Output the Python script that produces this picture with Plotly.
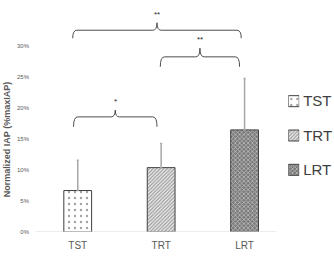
import plotly.graph_objects as go

# ---- data ----
categories = ["TST", "TRT", "LRT"]
means = [6.7, 10.4, 16.5]          # Normalized IAP (% maxIAP)
sd_plus = [4.9, 3.9, 8.3]          # upper error
tick_vals = [0, 5, 10, 15, 20, 25, 30]
tick_text = ["0%", "5%", "10%", "15%", "20%", "25%", "30%"]
comparisons = [(0, 1, "*"), (1, 2, "**"), (0, 2, "**")]

# ---- style ----
pat_shapes = [".", "/", "x"]
pat_bg = ["white", "#f2f2f2", "#7a7a7a"]
pat_fg = ["#808080", "#6a6a6a", "#3a3a3a"]
pat_size = [6, 2.5, 3]
pat_sol = [0.12, 0.5, 0.45]
brace_levels = [18.6, 28.3, 32.6]   # horizontal level of each brace
brace_drop = [1.6, 1.6, 1.3]
brace_rise = [1.1, 1.4, 1.2]
brace_span = [(-0.05, -0.05), (-0.01, -0.06), (-0.06, -0.04)]

W, H = 334, 257
L, R, T, B = 36, 2, 3, 25
pw = W - L - R
main_frac = 252 / pw

fig = go.Figure()
fig.add_trace(go.Bar(
    x=list(range(len(categories))), y=means, width=0.333,
    marker=dict(
        color=pat_bg,
        line=dict(color="#404040", width=1),
        pattern=dict(shape=pat_shapes, bgcolor=pat_bg, fgcolor=pat_fg,
                     size=pat_size, solidity=pat_sol, fillmode="overlay"),
    ),
    error_y=dict(type="data", symmetric=False, array=sd_plus,
                 arrayminus=[0] * len(means), color="#a6a6a6",
                 thickness=1.5, width=1),
    showlegend=False, xaxis="x", yaxis="y",
))

# legend swatches drawn as horizontal bars on a small side axis
fig.add_trace(go.Bar(
    y=categories, x=[1] * len(categories), orientation="h", width=0.32,
    marker=dict(
        color=pat_bg,
        line=dict(color="#404040", width=1),
        pattern=dict(shape=pat_shapes, bgcolor=pat_bg, fgcolor=pat_fg,
                     size=pat_size, solidity=pat_sol, fillmode="overlay"),
    ),
    showlegend=False, xaxis="x2", yaxis="y2", hoverinfo="skip",
))

shapes = []
annotations = []
for k, (i, j, lab) in enumerate(comparisons):
    x0 = i + brace_span[k][0]
    x1 = j + brace_span[k][1]
    xc = (x0 + x1) / 2
    yh = brace_levels[k]
    yt = yh - brace_drop[k]
    yp = yh + brace_rise[k]
    d = 0.05
    path = (f"M{x0},{yt} Q{x0},{yh} {x0 + d},{yh} L{xc - d},{yh} "
            f"Q{xc},{yh} {xc},{yp} Q{xc},{yh} {xc + d},{yh} "
            f"L{x1 - d},{yh} Q{x1},{yh} {x1},{yt}")
    shapes.append(dict(type="path", path=path, xref="x", yref="y",
                       line=dict(color="#4d4d4d", width=1)))
    annotations.append(dict(x=xc, y=yp + 0.3, xref="x", yref="y",
                            text=lab, showarrow=False, yanchor="bottom",
                            font=dict(size=8, color="#262626")))

# baseline axis line
shapes.append(dict(type="line", xref="x", yref="y", x0=-0.5, x1=2.38,
                   y0=0, y1=0, line=dict(color="#d9d9d9", width=1)))

annotations.append(dict(
    x=(7 - L) / pw, y=(H - B - 140) / (H - T - B), xref="paper", yref="paper",
    text="<b>Normalized IAP (%maxIAP)</b>", textangle=-90, showarrow=False,
    font=dict(size=9, color="#595959"), xanchor="center", yanchor="middle",
))

fig.update_layout(
    width=W, height=H,
    margin=dict(l=L, r=R, t=T, b=B),
    paper_bgcolor="white", plot_bgcolor="white",
    font=dict(family="Liberation Sans, Arial, sans-serif", color="#595959"),
    barmode="overlay",
    xaxis=dict(domain=[0, main_frac], range=[-0.5, 2.5],
               tickvals=list(range(len(categories))), ticktext=categories,
               showgrid=False, showline=False, zeroline=False, ticks="",
               tickfont=dict(size=10, color="#595959"), ticklabelstandoff=6),
    yaxis=dict(range=[0, 37], tickvals=tick_vals, ticktext=tick_text,
               showgrid=False, showline=False, zeroline=False, ticks="",
               tickfont=dict(size=6, color="#595959"), ticklabelstandoff=6),
    xaxis2=dict(domain=[(290 - L) / pw, (301 - L) / pw], range=[0, 1],
                anchor="y2", showgrid=False, showline=False, zeroline=False,
                showticklabels=False, ticks=""),
    yaxis2=dict(domain=[(232 - 187) / 229, (232 - 84) / 229], anchor="x2",
                side="right", autorange="reversed", showgrid=False,
                showline=False, zeroline=False, ticks="", ticklabelstandoff=3,
                tickfont=dict(size=15, color="#404040")),
    shapes=shapes, annotations=annotations,
)

fig.write_html("out.html")
